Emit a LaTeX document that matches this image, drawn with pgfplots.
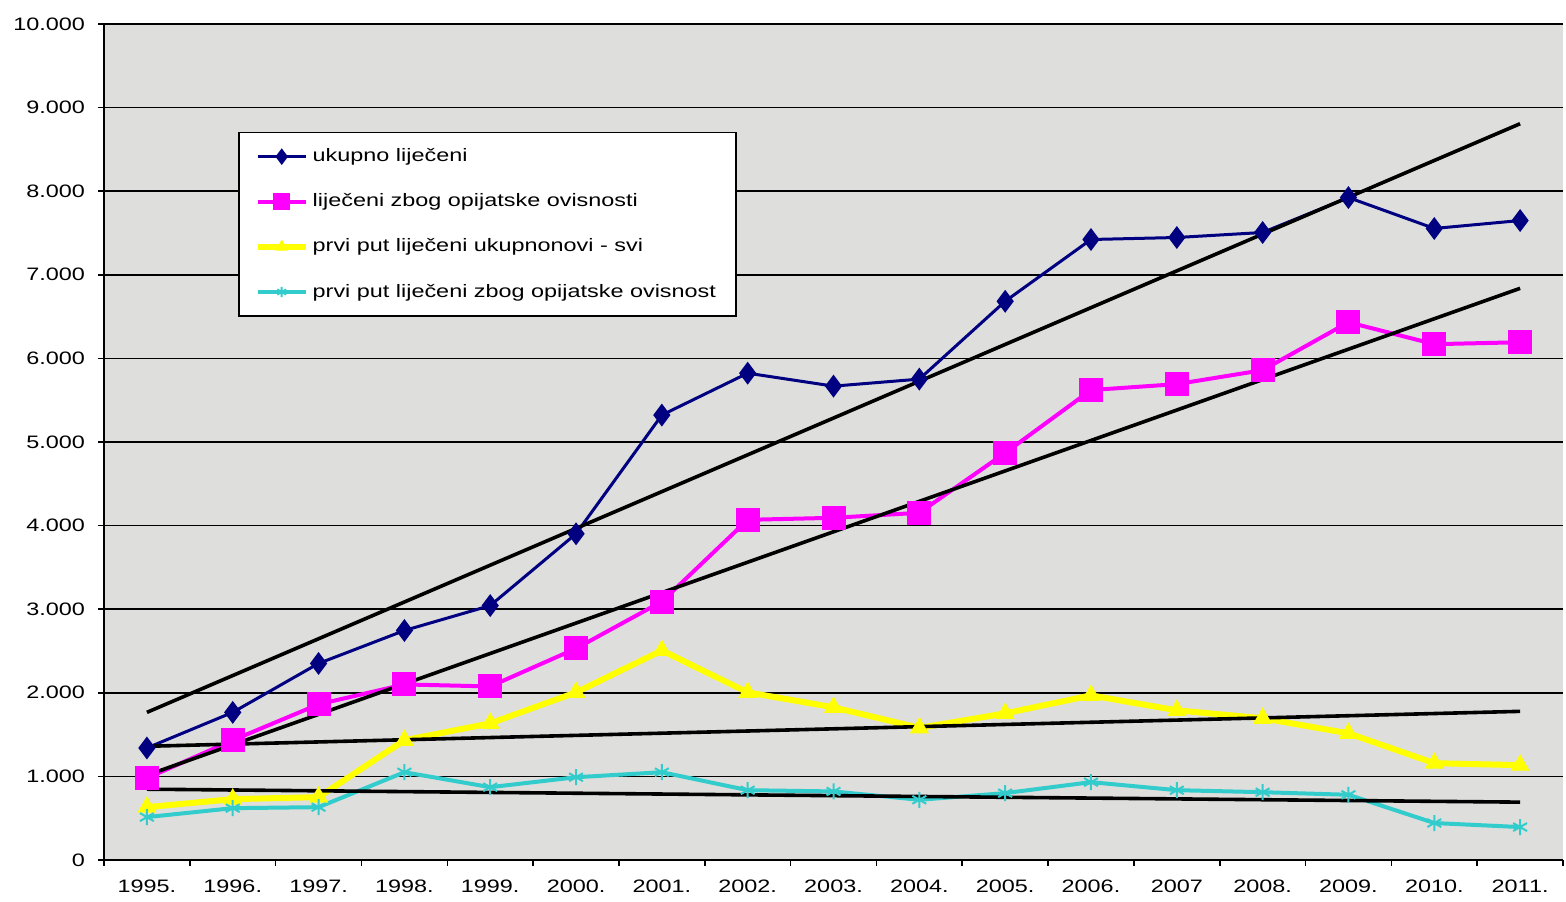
\documentclass[border=0pt]{standalone}
\usepackage{fontspec}
\setmainfont{Liberation Sans}[FakeStretch=1.3]
\usepackage{pgfplots}
\pgfplotsset{compat=1.18}
\definecolor{bgray}{RGB}{222,222,220}
\definecolor{navy}{RGB}{0,0,128}
\definecolor{magentax}{RGB}{255,0,255}
\definecolor{yellowx}{RGB}{255,255,0}
\definecolor{cyanx}{RGB}{51,204,204}
\begin{document}
\begin{tikzpicture}
\begin{axis}[
    scale only axis,
    width=729.5pt, height=418pt,
    xmin=-0.5, xmax=16.5,
    ymin=0, ymax=10000,
    scaled y ticks=false,
    axis lines=left,
    axis line style={-, black, line width=1pt},
    axis background/.style={fill=bgray},
    xtick={0,...,16},
    xticklabels={1995.,1996.,1997.,1998.,1999.,2000.,2001.,2002.,2003.,2004.,2005.,2006.,2007,2008.,2009.,2010.,2011.},
    major x tick style={draw=none},
    minor xtick={-0.5,0.5,...,16.5},
    minor tick length=3pt,
    minor x tick style={black, line width=0.8pt},
    ytick={0,1000,...,10000},
    yticklabels={0,1.000,2.000,3.000,4.000,5.000,6.000,7.000,8.000,9.000,10.000},
    major tick length=3pt,
    major y tick style={black, line width=0.8pt},
    tick align=outside,
    ymajorgrids,
    major grid style={black, line width=0.8pt},
    tick label style={font=\fontsize{9}{11}\selectfont, inner ysep=1pt},
    xticklabel style={yshift=-6pt},
    yticklabel style={xshift=-3pt},
    legend style={at={(rel axis cs:0.0918,0.871)}, anchor=north west,
        draw=black, line width=0.8pt, fill=white,
        font=\fontsize{9}{11}\selectfont,
        row sep=10.5pt, inner xsep=8pt, inner ysep=6pt},
    legend cell align=left,
    legend image code/.code={\draw[mark repeat=2,mark phase=2,#1,every mark/.append style={scale=0.65}] plot coordinates {(0pt,0pt) (12pt,0pt) (24pt,0pt)};},
]
\addplot[navy, line width=1.5pt, mark=diamond*, mark size=4.5pt, mark options={fill=navy}] coordinates {
    (0,1340) (1,1766) (2,2351) (3,2745) (4,3043) (5,3902) (6,5322) (7,5823) (8,5668)
    (9,5752) (10,6683) (11,7422) (12,7446) (13,7506) (14,7924) (15,7554) (16,7649)
};
\addlegendentry{ukupno liječeni}
\addplot[magentax, line width=2pt, mark=square*, mark size=5pt, mark options={fill=magentax}] coordinates {
    (0,979) (1,1432) (2,1862) (3,2100) (4,2076) (5,2530) (6,3091) (7,4069) (8,4093)
    (9,4153) (10,4869) (11,5621) (12,5692) (13,5859) (14,6432) (15,6170) (16,6193)
};
\addlegendentry{liječeni zbog opijatske ovisnosti}
\addplot[yellowx, line width=3pt, mark=triangle*, mark size=5pt, mark options={fill=yellowx, line width=0.5pt}] coordinates {
    (0,632) (1,728) (2,752) (3,1432) (4,1635) (5,2005) (6,2506) (7,2005) (8,1826)
    (9,1580) (10,1754) (11,1969) (12,1790) (13,1695) (14,1515) (15,1158) (16,1134)
};
\addlegendentry{prvi put liječeni ukupnonovi - svi}
\addplot[cyanx, line width=2pt, mark=asterisk, mark size=4pt, mark options={line width=1pt}] coordinates {
    (0,513) (1,620) (2,632) (3,1050) (4,871) (5,990) (6,1050) (7,835) (8,820)
    (9,720) (10,800) (11,931) (12,835) (13,811) (14,780) (15,442) (16,394)
};
\addlegendentry{prvi put liječeni zbog opijatske ovisnost}
\addplot[black, line width=1.8pt, forget plot] coordinates {(0,1766) (16,8807)};
\addplot[black, line width=1.8pt, forget plot] coordinates {(0,1014) (16,6838)};
\addplot[black, line width=1.8pt, forget plot] coordinates {(0,1360) (16,1778)};
\addplot[black, line width=1.8pt, forget plot] coordinates {(0,847) (16,692)};
\end{axis}
\pgfresetboundingbox
\useasboundingbox ([shift={(-52pt,-21pt)}]current axis.south west) rectangle ([shift={(1.5pt,12pt)}]current axis.north east);
\end{tikzpicture}
\end{document}
